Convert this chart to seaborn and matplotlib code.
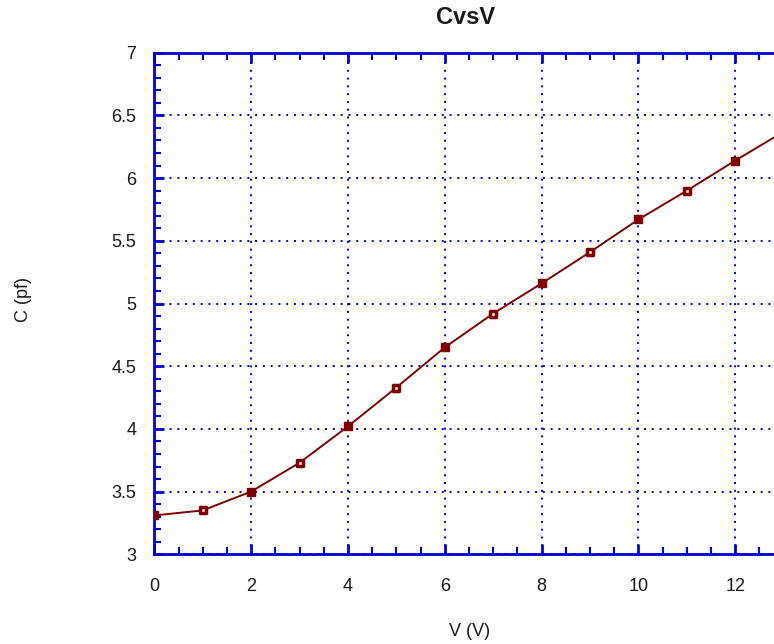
import matplotlib
matplotlib.use("Agg")
import matplotlib.pyplot as plt
import seaborn as sns
import pandas as pd
from matplotlib.ticker import MultipleLocator

V = [0, 1, 2, 3, 4, 5, 6, 7, 8, 9, 10, 11, 12, 13]
C = [3.31, 3.35, 3.50, 3.73, 4.02, 4.33, 4.65, 4.92, 5.16, 5.41, 5.67, 5.90, 6.14, 6.37]
filled = [True, False, True, False, True, False, True, False, True, False, True, False, True, False]
y_ticks = [3, 3.5, 4, 4.5, 5, 5.5, 6, 6.5, 7]
y_tick_labels = ["3", "3.5", "4", "4.5", "5", "5.5", "6", "6.5", "7"]

df = pd.DataFrame({"V": V, "C": C, "filled": filled})

sns.set_theme(style="white")
plt.rcParams['font.family'] = ['Liberation Sans', 'DejaVu Sans']

W, H = 774, 644
fig = plt.figure(figsize=(W / 100, H / 100), dpi=100)
ax = fig.add_axes([154.3 / W, (H - 554.3) / H, (W - 154.3) / W, (554.3 - 52.7) / H])

dark = "#800000"
blue = "#0000dd"
txt = "#1a1a1a"

sns.lineplot(data=df, x="V", y="C", ax=ax, color=dark, lw=1.4, zorder=3)
sns.scatterplot(data=df[df.filled], x="V", y="C", ax=ax, marker="s", s=38,
                color=dark, edgecolor=dark, linewidth=1, zorder=4)
sns.scatterplot(data=df[~df.filled], x="V", y="C", ax=ax, marker="s", s=22,
                facecolor="white", edgecolor=dark, linewidth=2.5, zorder=4)

ax.set_xlim(0, 12.8)
ax.set_ylim(3, 7)
ax.xaxis.set_major_locator(MultipleLocator(2))
ax.xaxis.set_minor_locator(MultipleLocator(0.5))
ax.yaxis.set_minor_locator(MultipleLocator(0.1))
ax.set_yticks(y_ticks)
ax.set_yticklabels(y_tick_labels)

ax.grid(True, which="major", color=blue, linestyle=(0, (1, 3)), linewidth=1.4)
for s in ["left", "bottom", "top"]:
    ax.spines[s].set_color(blue)
    ax.spines[s].set_linewidth(2)
ax.spines["right"].set_visible(False)

ax.tick_params(which="both", direction="in", color=blue, top=True, left=True,
               bottom=True, right=False)
ax.tick_params(which="major", length=7, width=2)
ax.tick_params(which="minor", length=5, width=1.5)
ax.tick_params(axis="x", which="major", pad=17, labelsize=13, labelcolor=txt)
ax.tick_params(axis="y", which="major", pad=13, labelsize=13, labelcolor=txt)

ax.set_xlabel("")
ax.set_ylabel("")
fig.text(470 / W, 1 - 631 / H, "V (V)", ha="center", va="center", fontsize=13, color=txt)
fig.text(23 / W, 1 - 299 / H, "C (pf)", ha="center", va="center", fontsize=13,
         rotation=90, color=txt)
fig.text(466 / W, 1 - 18 / H, "CvsV", ha="center", va="center", fontsize=17,
         fontweight="bold", color=txt)

fig.savefig("out.png", dpi=100)
